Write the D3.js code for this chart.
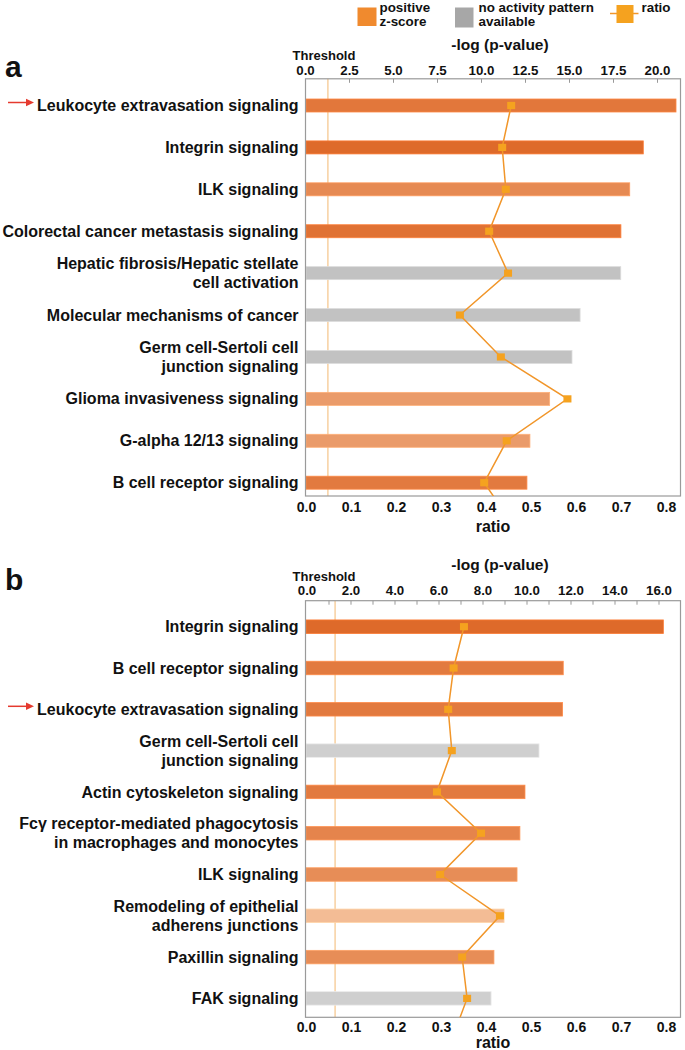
<!DOCTYPE html>
<html><head><meta charset="utf-8">
<script src="https://cdn.jsdelivr.net/npm/d3@7"></script>
<style>
body{margin:0;background:#fff}
svg{display:block}
text{font-family:"Liberation Sans",Arial,Helvetica,sans-serif;font-weight:bold;fill:#111}
</style>
</head><body>
<svg id="c" width="685" height="1050"></svg>
<script>
// ---------- DATA ----------
const categoriesA = [
  "Leukocyte extravasation signaling",
  "Integrin signaling",
  "ILK signaling",
  "Colorectal cancer metastasis signaling",
  "Hepatic fibrosis/Hepatic stellate\ncell activation",
  "Molecular mechanisms of cancer",
  "Germ cell-Sertoli cell\njunction signaling",
  "Glioma invasiveness signaling",
  "G-alpha 12/13 signaling",
  "B cell receptor signaling"
];
const logPA  = [21.08, 19.22, 18.45, 17.95, 17.94, 15.63, 15.17, 13.90, 12.78, 12.61];
const ratioA = [0.456, 0.436, 0.444, 0.407, 0.449, 0.342, 0.433, 0.581, 0.446, 0.396];
const zScoreA = [3.42, 3.82, 2.84, 3.57, null, null, null, 2.32, 2.32, 3.33];
const ratioTailA = 0.46;   // line continues past the last row
const highlightA = "Leukocyte extravasation signaling";
const logTicksA = [0, 2.5, 5, 7.5, 10, 12.5, 15, 17.5, 20];

const categoriesB = [
  "Integrin signaling",
  "B cell receptor signaling",
  "Leukocyte extravasation signaling",
  "Germ cell-Sertoli cell\njunction signaling",
  "Actin cytoskeleton signaling",
  "Fcγ receptor-mediated phagocytosis\nin macrophages and monocytes",
  "ILK signaling",
  "Remodeling of epithelial\nadherens junctions",
  "Paxillin signaling",
  "FAK signaling"
];
const logPB  = [16.22, 11.67, 11.64, 10.57, 9.93, 9.70, 9.57, 8.98, 8.52, 8.39];
const ratioB = [0.351, 0.328, 0.316, 0.324, 0.291, 0.389, 0.298, 0.431, 0.347, 0.358];
const zScoreB = [3.82, 3.33, 3.33, null, 3.33, 3.02, 2.75, 1.31, 2.75, null];
const ratioTailB = 0.324;
const highlightB = "Leukocyte extravasation signaling";
const logTicksB = [0, 2, 4, 6, 8, 10, 12, 14, 16];
const logMinorB = d3.range(0, 17, 1);

const ratioTicks = [0, 0.1, 0.2, 0.3, 0.4, 0.5, 0.6, 0.7, 0.8];
const thresholdLogP = 1.3;   // -log(0.05)

const legendItems = ["positive\nz-score", "no activity pattern\navailable", "ratio"];

// ---------- DRAW ----------
const svg = d3.select("#c");
const zColor = d3.scaleLinear().domain([1, 4]).range(["#F5C6A2", "#DD6422"]).clamp(true);
const lineColor = "#F1962A", markColor = "#F5A21F";

function drawPanel(cfg) {
  const g = svg.append("g");
  const xLog = d3.scaleLinear().domain([0, cfg.logDomainMax]).range([cfg.left0, cfg.logAt]);
  const xRatio = d3.scaleLinear().domain([0, 0.8]).range([306, 666]);
  const y = d3.scalePoint().domain(cfg.cats).range([cfg.firstRow, cfg.lastRow]);
  const step = (cfg.lastRow - cfg.firstRow) / (cfg.cats.length - 1);
  const L = cfg.boxL, R = cfg.boxR, T = cfg.top, B = cfg.bottom;

  const clipId = "clip" + cfg.letter;
  svg.append("clipPath").attr("id", clipId).append("rect")
    .attr("x", L).attr("y", T).attr("width", R - L).attr("height", B - T);

  // threshold line
  g.append("line")
    .attr("x1", xLog(thresholdLogP)).attr("x2", xLog(thresholdLogP))
    .attr("y1", T).attr("y2", B)
    .attr("stroke", "#F8D3A6").attr("stroke-width", 1.6);

  // bars
  g.append("g").selectAll("rect").data(cfg.cats).join("rect")
    .attr("x", L + 0.5)
    .attr("y", d => y(d) - cfg.barH / 2)
    .attr("width", (d, i) => xLog(cfg.logp[i]) - L - 0.5)
    .attr("height", cfg.barH)
    .attr("fill", (d, i) => cfg.z[i] == null ? cfg.gray : zColor(cfg.z[i]))
    .attr("stroke", (d, i) => d3.color(cfg.z[i] == null ? cfg.gray : zColor(cfg.z[i])).brighter(0.35))
    .attr("stroke-width", 0.8);

  // box
  g.append("rect").attr("x", L).attr("y", T).attr("width", R - L).attr("height", B - T)
    .attr("fill", "none").attr("stroke", "#9a9a9a").attr("stroke-width", 1.2);

  // top axis labels
  const topAxis = d3.axisTop(xLog).tickValues(cfg.logTicks)
    .tickFormat(d3.format(".1f")).tickSize(0).tickPadding(cfg.topPad);
  const ta = g.append("g").attr("transform", `translate(0,${T})`).call(topAxis);
  ta.select(".domain").remove();
  ta.selectAll("text").style("font-size", "13.3px").attr("fill", "#111")
    .style("font-family", '"Liberation Sans",Arial,sans-serif').style("font-weight", "bold");

  // inner tick marks at the top edge
  const inner = d3.axisBottom(xLog).tickValues(cfg.minorTicks).tickSize(4).tickFormat("");
  const ia = g.append("g").attr("transform", `translate(0,${T})`).call(inner);
  ia.select(".domain").remove();
  ia.selectAll("line").attr("stroke", "#999");

  // bottom ratio axis
  const botAxis = d3.axisBottom(xRatio).tickValues(ratioTicks)
    .tickFormat(d3.format(".1f")).tickSize(0).tickPadding(cfg.botPad);
  const ba = g.append("g").attr("transform", `translate(0,${B})`).call(botAxis);
  ba.select(".domain").remove();
  ba.selectAll("text").style("font-size", "14px").attr("fill", "#111")
    .style("font-family", '"Liberation Sans",Arial,sans-serif').style("font-weight", "bold");

  // axis titles
  g.append("text").attr("x", 500).attr("y", cfg.logTitleY).attr("text-anchor", "middle")
    .style("font-size", "15.5px").text("-log (p-value)");
  g.append("text").attr("x", 324).attr("y", cfg.threshY).attr("text-anchor", "middle")
    .style("font-size", "13px").text("Threshold");
  g.append("text").attr("x", 493).attr("y", cfg.ratioTitleY).attr("text-anchor", "middle")
    .style("font-size", "16px").text("ratio");

  // panel letter
  g.append("text").attr("x", 5).attr("y", cfg.letterY)
    .style("font-size", "30px").text(cfg.letter);

  // category labels
  const lab = g.append("g").selectAll("text").data(cfg.cats).join("text")
    .attr("x", 298.5).attr("text-anchor", "end").style("font-size", "16px");
  lab.each(function(d) {
    const lines = d.split("\n");
    const t = d3.select(this);
    const c = y(d);
    lines.forEach((ln, k) => {
      const off = lines.length === 1 ? 0 : (k === 0 ? -9.5 : 9.5);
      t.append("tspan").attr("x", 298.5).attr("y", c + off + 5.6).text(ln);
    });
  });

  // red arrow for highlighted pathway
  const ya = y(cfg.highlight) - 3;
  g.append("line").attr("x1", 8).attr("x2", 28).attr("y1", ya).attr("y2", ya)
    .attr("stroke", "#E53A2F").attr("stroke-width", 1.5);
  g.append("path").attr("d", `M34,${ya} L26,${ya - 3.8} L26,${ya + 3.8} Z`).attr("fill", "#E53A2F");

  // ratio line (with continuation beyond the last row, clipped to the box)
  const pts = cfg.cats.map((d, i) => [xRatio(cfg.ratio[i]), y(d)]);
  const linePts = pts.concat([[xRatio(cfg.tail), cfg.lastRow + step]]);
  g.append("path").attr("clip-path", `url(#${clipId})`)
    .attr("d", d3.line()(linePts)).attr("fill", "none")
    .attr("stroke", lineColor).attr("stroke-width", 1.5);
  g.append("g").selectAll("rect").data(pts).join("rect")
    .attr("x", d => d[0] - 4).attr("y", d => d[1] - 3.6)
    .attr("width", 8).attr("height", 7.2).attr("fill", markColor);
}

drawPanel({
  letter: "a", cats: categoriesA, logp: logPA, ratio: ratioA, z: zScoreA, tail: ratioTailA,
  highlight: highlightA, logTicks: logTicksA, minorTicks: logTicksA.slice(1),
  logDomainMax: 20, left0: 305, logAt: 657,
  boxL: 305.5, boxR: 680.5, top: 78.8, bottom: 496,
  firstRow: 105.5, lastRow: 482.7, barH: 13, gray: "#C2C2C2",
  topPad: 4.0, botPad: 6.0, logTitleY: 50, threshY: 60, ratioTitleY: 531.5, letterY: 77
});

drawPanel({
  letter: "b", cats: categoriesB, logp: logPB, ratio: ratioB, z: zScoreB, tail: ratioTailB,
  highlight: highlightB, logTicks: logTicksB, minorTicks: logMinorB.slice(1),
  logDomainMax: 16, left0: 306.5, logAt: 658.5,
  boxL: 305.5, boxR: 680.5, top: 600.7, bottom: 1017.3,
  firstRow: 626.7, lastRow: 998.4, barH: 13.5, gray: "#CFCFCF",
  topPad: 5.4, botPad: 5.2, logTitleY: 570, threshY: 580.5, ratioTitleY: 1048, letterY: 590
});

// legend
const lg = svg.append("g");
lg.append("rect").attr("x", 357.5).attr("y", 7.5).attr("width", 19).attr("height", 18.5).attr("fill", "#F08A2E");
lg.append("rect").attr("x", 455).attr("y", 7.5).attr("width", 18.5).attr("height", 20).attr("fill", "#A7A7A7");
lg.append("line").attr("x1", 610).attr("x2", 638.5).attr("y1", 13.5).attr("y2", 13.5)
  .attr("stroke", lineColor).attr("stroke-width", 1.5);
lg.append("rect").attr("x", 616.5).attr("y", 5).attr("width", 17).attr("height", 18).attr("fill", markColor);
const legX = [379.5, 478.5, 641.5];
legendItems.forEach((t, i) => {
  const tx = lg.append("text").attr("x", legX[i]).style("font-size", "13.4px");
  t.split("\n").forEach((ln, k) => {
    tx.append("tspan").attr("x", legX[i]).attr("y", 11.8 + k * 13.7).text(ln);
  });
});
</script>
</body></html>
